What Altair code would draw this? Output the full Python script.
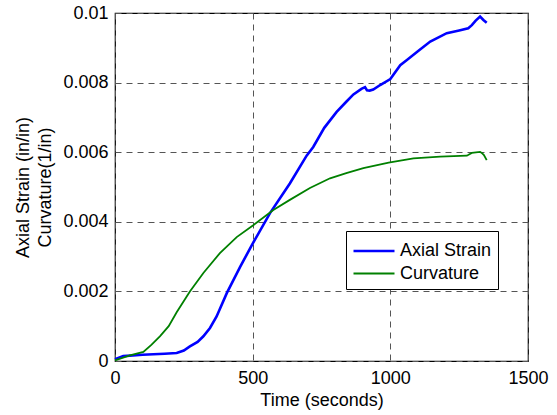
import altair as alt
import pandas as pd

strain_t = [0, 30, 100, 180, 224, 250, 272, 300, 321, 345, 369, 406, 454, 502, 563, 635, 696, 720, 760, 805,
            840, 866, 895, 908, 915, 925, 938, 963, 1000, 1036, 1059, 1100, 1145, 1205, 1250, 1283, 1296, 1310,
            1326, 1338, 1350]
strain_v = [0.00005, 0.00014, 0.00018, 0.00021, 0.00023, 0.0003, 0.00042, 0.00055, 0.00071, 0.00095, 0.00128,
            0.00195, 0.0027, 0.0034, 0.00425, 0.0051, 0.0059, 0.00615, 0.0067, 0.00716, 0.00745, 0.00766, 0.00782,
            0.00787, 0.00778, 0.00777, 0.0078, 0.00793, 0.0081, 0.0085, 0.00864, 0.0089, 0.00918, 0.00942, 0.0095,
            0.00956, 0.00965, 0.00978, 0.0099, 0.0098, 0.00972]

curv_t = [0, 54, 103, 133, 163, 195, 224, 272, 321, 381, 442, 502, 575, 635, 708, 781, 840, 902, 994, 1084,
          1181, 1278, 1296, 1326, 1332, 1340, 1350]
curv_v = [0.00002, 0.00016, 0.00026, 0.00047, 0.00071, 0.001, 0.0014, 0.002, 0.00253, 0.0031, 0.00356, 0.0039,
          0.00434, 0.00463, 0.00497, 0.00525, 0.0054, 0.00554, 0.0057, 0.00582, 0.00587, 0.0059, 0.00598, 0.00601,
          0.00598, 0.00592, 0.00577]

series_names = ["Axial Strain", "Curvature"]
series_colors = ["#0000ff", "#008000"]
series_widths = [2.6, 1.8]

df = pd.concat([
    pd.DataFrame({"t": strain_t, "v": strain_v, "series": series_names[0], "order": range(len(strain_t))}),
    pd.DataFrame({"t": curv_t, "v": curv_v, "series": series_names[1], "order": range(len(curv_t))}),
])

FONT = "Liberation Sans"

chart = alt.Chart(df).mark_line().encode(
    x=alt.X("t:Q", scale=alt.Scale(domain=[0, 1500], nice=False),
            axis=alt.Axis(values=[0, 500, 1000, 1500], title="Time (seconds)", format="d")),
    y=alt.Y("v:Q", scale=alt.Scale(domain=[0, 0.01], nice=False),
            axis=alt.Axis(values=[0, 0.002, 0.004, 0.006, 0.008, 0.01], format="~g",
                          title=["Axial Strain (in/in)", "Curvature(1/in)"])),
    color=alt.Color("series:N", scale=alt.Scale(domain=series_names, range=series_colors),
                    legend=alt.Legend(title=None, orient="none", legendX=231, legendY=218)),
    strokeWidth=alt.StrokeWidth("series:N", scale=alt.Scale(domain=series_names, range=series_widths),
                                legend=None),
    order="order:Q",
).properties(
    width=413, height=348,
    autosize=alt.AutoSizeParams(type="none"),
    padding={"left": 115, "top": 13, "right": 29, "bottom": 54},
).configure_view(
    stroke="black", strokeWidth=1.2, fill="white"
).configure_axis(
    grid=True, gridDash=[6, 5], gridColor="#555555", gridWidth=1, gridOpacity=1,
    domain=False, ticks=False, labelFlush=False, labelOverlap=False,
    labelFont=FONT, labelFontSize=18, labelColor="black",
    titleFont=FONT, titleFontSize=18, titleFontWeight="normal", titleColor="black",
).configure_axisX(
    labelPadding=8, titlePadding=4,
).configure_axisY(
    labelPadding=7, titlePadding=8, titleLineHeight=22,
).configure_legend(
    strokeColor="black", fillColor="white", padding=6, cornerRadius=0,
    symbolType="M-1,0H2.28", symbolSize=625, symbolStrokeWidth=2,
    labelFont=FONT, labelFontSize=18, labelColor="black", rowPadding=-2, labelOffset=20,
)

chart.save("out.html", embed_options={"renderer": "svg", "actions": False})
